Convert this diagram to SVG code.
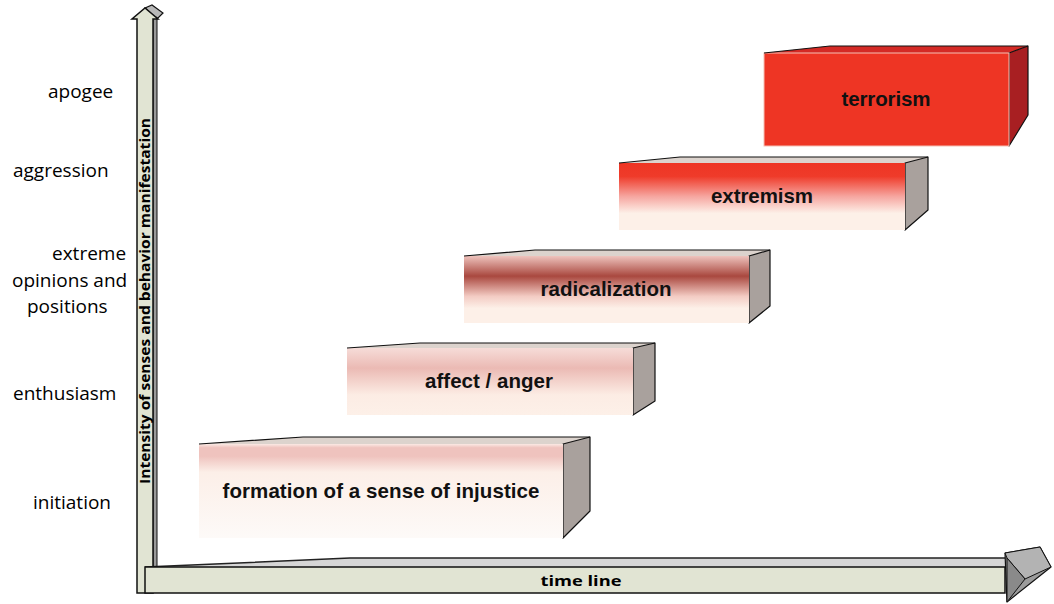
<svg xmlns="http://www.w3.org/2000/svg" width="1054" height="604" viewBox="0 0 1054 604">
<style>
.lbl{font-family:"Open Sans","Liberation Sans",sans-serif;font-size:19px;fill:#000}
.bx{font-family:"Liberation Sans",Arial,sans-serif;font-size:20.5px;font-weight:bold;fill:#111;text-anchor:middle}
.ax{font-family:"Open Sans","Liberation Sans",sans-serif;font-size:14px;font-weight:bold;fill:#000;text-anchor:middle}
.top{fill:#dcd3cd;stroke:none}
.topline{fill:none;stroke:#111;stroke-width:1.2}
.side{fill:#a9a19d;stroke:#111;stroke-width:1.2;stroke-linejoin:round}
.shaft{fill:#e1e4d3;stroke:#111;stroke-width:1.5}
</style>
<defs>
<linearGradient id="gForm" x1="0" y1="0" x2="0" y2="1">
<stop offset="0" stop-color="#fbe9e4"/><stop offset="0.04" stop-color="#efc3be"/><stop offset="0.13" stop-color="#efc3be"/><stop offset="0.3" stop-color="#fcefe8"/><stop offset="1" stop-color="#fdfaf8"/>
</linearGradient>
<linearGradient id="gAff" x1="0" y1="0" x2="0" y2="1">
<stop offset="0" stop-color="#f6dcd8"/><stop offset="0.3" stop-color="#ebbab4"/><stop offset="0.7" stop-color="#fcece4"/><stop offset="1" stop-color="#fdf0e8"/>
</linearGradient>
<linearGradient id="gRad" x1="0" y1="0" x2="0" y2="1">
<stop offset="0" stop-color="#eec3bd"/><stop offset="0.3" stop-color="#a9483f"/><stop offset="0.6" stop-color="#f3cbc3"/><stop offset="0.78" stop-color="#fdf0e8"/><stop offset="1" stop-color="#fdf0e8"/>
</linearGradient>
<linearGradient id="gExt" x1="0" y1="0" x2="0" y2="1">
<stop offset="0" stop-color="#ee3524"/><stop offset="0.2" stop-color="#ef3b2a"/><stop offset="0.5" stop-color="#f6a6a0"/><stop offset="0.75" stop-color="#fdf0e8"/><stop offset="1" stop-color="#fdf0e8"/>
</linearGradient>
</defs>

<g id="connectors">
<g id="y-axis">
<polygon points="145,8 152,5 163,13 157,19" fill="#b8b8b8" stroke="#111" stroke-width="1.2"/>
<polygon points="153,19 157,17 157,590 153,593" fill="#9a9a9a" stroke="#111" stroke-width="1"/>
<polygon class="shaft" points="137,593 137,19 132,19 145,8 158,19 153,19 153,593"/>
<text class="ax" transform="translate(150,301) rotate(-90)" textLength="366" lengthAdjust="spacingAndGlyphs">Intensity of senses and behavior manifestation</text>
</g>
<g id="x-axis">
<polygon points="145,567 350,558 1005,558 1005,567" fill="#d6d6d6" stroke="none"/>
<polyline points="145,567 350,558 1005,558" fill="none" stroke="#222" stroke-width="1.5"/>
<rect class="shaft" x="145" y="567" width="860" height="26"/>
<polygon points="1005,553 1040,547 1051,567 1007,602" fill="#9c9c9c" stroke="#111" stroke-width="1.2" stroke-linejoin="round"/>
<polygon points="1005,553 1040,547 1051,567 1025,579 1007,558" fill="#b3b3b3" stroke="#111" stroke-width="1"/>
<polygon points="1007,558 1025,579 1007,602" fill="#8a8a8a" stroke="#111" stroke-width="1"/>
<text class="ax" x="581" y="586" font-size="17" textLength="81" lengthAdjust="spacingAndGlyphs">time line</text>
</g>
</g>

<g id="labels">
<text class="lbl" x="48" y="98">apogee</text>
<text class="lbl" x="13" y="177">aggression</text>
<text class="lbl" x="52" y="260">extreme</text>
<text class="lbl" x="12" y="287">opinions and</text>
<text class="lbl" x="27" y="313">positions</text>
<text class="lbl" x="13" y="400">enthusiasm</text>
<text class="lbl" x="33" y="509">initiation</text>
</g>

<g id="box-formation">
<polygon class="top" points="199,444 303,437 590,437 563,444"/>
<polygon class="side" points="563,444 590,437 590,511 563,538"/>
<rect x="199" y="444" width="364" height="94" fill="url(#gForm)"/>
<polyline class="topline" points="199,444 303,437 590,437"/>
<text class="bx" x="381" y="498" textLength="317" lengthAdjust="spacing">formation of a sense of injustice</text>
</g>

<g id="box-affect">
<polygon class="top" points="347,348 420,343 655,343 633,348"/>
<polygon class="side" points="633,348 655,343 655,401 633,415"/>
<rect x="347" y="348" width="286" height="67" fill="url(#gAff)"/>
<polyline class="topline" points="347,348 420,343 655,343"/>
<text class="bx" x="489" y="388" textLength="128" lengthAdjust="spacing">affect / anger</text>
</g>

<g id="box-radicalization">
<polygon class="top" points="464,256 535,250 770,250 749,256"/>
<polygon class="side" points="749,256 770,250 770,306 749,323"/>
<rect x="464" y="256" width="285" height="67" fill="url(#gRad)"/>
<polyline class="topline" points="464,256 535,250 770,250"/>
<text class="bx" x="606" y="296" textLength="131" lengthAdjust="spacing">radicalization</text>
</g>

<g id="box-extremism">
<polygon class="top" points="619,163 680,157 928,157 905,163"/>
<polygon class="side" points="905,163 928,157 928,210 905,230"/>
<rect x="619" y="163" width="286" height="67" fill="url(#gExt)"/>
<polyline class="topline" points="619,163 680,157 928,157"/>
<text class="bx" x="762" y="203" textLength="102" lengthAdjust="spacing">extremism</text>
</g>

<g id="box-terrorism">
<polygon points="764,53 830,46 1028,46 1009,53" fill="#d42a25"/>
<polygon points="1009,53 1028,46 1028,115 1009,146" fill="#a81f22" stroke="#111" stroke-width="1.2" stroke-linejoin="round"/>
<rect x="764" y="53" width="245" height="93" fill="#ee3524" stroke="#f5c0b4" stroke-width="1"/>
<polyline class="topline" points="764,53 830,46 1028,46"/>
<text class="bx" x="886" y="106" textLength="89" lengthAdjust="spacing">terrorism</text>
</g>
</svg>
